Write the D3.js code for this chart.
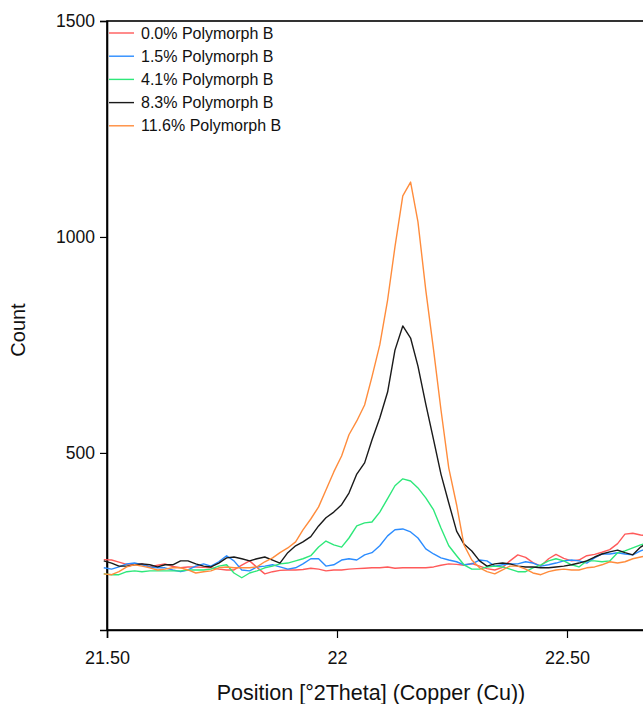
<!DOCTYPE html>
<html>
<head>
<meta charset="utf-8">
<script src="https://cdn.jsdelivr.net/npm/d3@7"></script>
<style>
  html, body { margin: 0; padding: 0; background: #fff; }
  svg { display: block; }
  text { font-family: "Liberation Sans", Arial, sans-serif; fill: #111; }
</style>
</head>
<body>
<svg id="chart" width="643" height="704"></svg>
<script>
// ---- data ----
const positions = [21.493,21.510,21.526,21.543,21.560,21.576,21.593,21.610,21.626,21.643,
  21.660,21.676,21.693,21.710,21.726,21.743,21.760,21.776,21.793,21.810,
  21.826,21.843,21.860,21.876,21.893,21.910,21.926,21.943,21.960,21.976,
  21.993,22.010,22.026,22.043,22.060,22.076,22.093,22.110,22.126,22.143,
  22.160,22.176,22.193,22.210,22.226,22.243,22.260,22.276,22.293,22.310,
  22.326,22.343,22.360,22.376,22.393,22.410,22.426,22.443,22.460,22.476,
  22.493,22.510,22.526,22.543,22.560,22.576,22.593,22.610,22.626,22.643,
  22.660,22.676];

const seriesNames = ["0.0% Polymorph B","1.5% Polymorph B","4.1% Polymorph B","8.3% Polymorph B","11.6% Polymorph B"];
const seriesColors = ["#ff5a5a","#2b8cff","#2ee87a","#1a1a1a","#ff8c3c"];

const counts0 = [253,252,247,242,243,243,236,240,243,237,234,236,236,235,234,231,229,229,240,250,
  235,220,225,228,229,229,230,233,231,227,229,229,231,232,233,234,234,236,233,234,
  234,234,234,236,240,243,242,240,244,238,232,229,235,250,264,258,246,238,255,265,
  256,250,252,262,265,270,276,290,312,314,310,308];
const counts1 = [234,231,236,243,245,241,236,234,234,229,225,229,238,243,238,248,262,250,229,227,
  236,238,241,236,231,234,243,255,255,238,241,252,255,252,264,269,285,308,322,324,
  317,303,278,266,257,252,248,241,243,252,250,238,241,243,243,248,245,238,241,245,
  250,252,250,245,257,266,266,269,266,264,273,280];
const counts2 = [220,218,218,225,227,225,227,227,227,227,227,229,229,229,231,238,241,222,211,222,
  227,234,238,243,245,250,255,262,282,296,287,282,303,331,338,340,363,394,424,440,
  435,419,396,368,326,285,262,241,231,231,236,238,236,231,225,225,234,241,250,255,
  250,241,236,250,250,248,250,269,273,280,287,292];
const counts3 = [250,245,238,238,241,243,241,236,241,241,250,250,243,238,236,245,257,259,255,250,
  255,259,252,245,269,285,294,306,331,350,363,380,407,451,477,530,581,641,738,794,
  766,701,613,530,451,384,319,289,273,250,238,243,245,243,238,236,236,234,234,236,
  238,241,245,250,259,266,271,275,269,264,282,292];
const counts4 = [220,218,225,236,241,238,234,229,231,234,234,229,222,225,227,234,236,234,234,234,
  236,248,257,269,280,294,322,347,375,414,456,493,542,574,611,676,750,854,977,1095,
  1127,1035,877,738,600,465,380,287,252,234,225,220,229,238,238,231,222,218,225,229,
  231,229,229,234,236,241,248,245,248,255,259,262];
const allCounts = [counts0, counts1, counts2, counts3, counts4];

const xTicks = [21.5, 22, 22.5];
const xTickLabels = ["21.50", "22", "22.50"];
const yTicks = [500, 1000, 1500];

// ---- layout ----
const svg = d3.select("#chart");
const mLeft = 107, mTop = 21, mBottom = 630, mRight = 670;

const x = d3.scaleLinear().domain([21.5, 21.5 + (mRight - mLeft) / 460]).range([mLeft, mRight]);
const y = d3.scaleLinear().domain([90, 1500]).range([mBottom, mTop]);

// frame
svg.append("rect")
  .attr("x", mLeft).attr("y", mTop)
  .attr("width", mRight - mLeft).attr("height", mBottom - mTop)
  .attr("fill", "none").attr("stroke", "#000").attr("stroke-width", 1.6);

// axes
const yAxis = d3.axisLeft(y).tickValues(yTicks).tickSize(7).tickPadding(5).tickFormat(d3.format("d"));
const gy = svg.append("g").attr("transform", `translate(${mLeft},0)`).call(yAxis);
gy.select(".domain").attr("stroke-width", 1.6);
gy.selectAll(".tick line").attr("stroke-width", 1.2);
gy.selectAll("text").style("font-size", "17.5px").attr("fill", "#111");

const xAxis = d3.axisBottom(x).tickValues(xTicks).tickSize(8).tickPadding(13)
  .tickFormat((d, i) => xTickLabels[i]);
const gx = svg.append("g").attr("transform", `translate(0,${mBottom})`).call(xAxis);
gx.select(".domain").attr("stroke-width", 1.6);
gx.selectAll(".tick line").attr("stroke-width", 1.2);
gx.selectAll("text").style("font-size", "18px").attr("fill", "#111");

// axis titles
svg.append("text")
  .attr("transform", `translate(25,330) rotate(-90)`)
  .attr("text-anchor", "middle")
  .style("font-size", "20px")
  .text("Count");
svg.append("text")
  .attr("x", 371).attr("y", 700)
  .attr("text-anchor", "middle")
  .style("font-size", "21.5px")
  .text("Position [°2Theta] (Copper (Cu))");

// lines
const line = d3.line()
  .x((d, i) => x(positions[i]))
  .y(d => y(d));

svg.append("g").selectAll("path")
  .data(allCounts)
  .join("path")
  .attr("d", d => line(d))
  .attr("fill", "none")
  .attr("stroke", (d, i) => seriesColors[i])
  .attr("stroke-width", 1.4)
  .attr("stroke-linejoin", "round");

// legend
const legend = svg.append("g");
seriesNames.forEach((name, i) => {
  const ly = 33 + i * 23.2;
  legend.append("line")
    .attr("x1", 109).attr("x2", 134)
    .attr("y1", ly).attr("y2", ly)
    .attr("stroke", seriesColors[i]).attr("stroke-width", 1.4);
  legend.append("text")
    .attr("x", 141).attr("y", ly + 5.5)
    .style("font-size", "16px")
    .text(name);
});
</script>
</body>
</html>
